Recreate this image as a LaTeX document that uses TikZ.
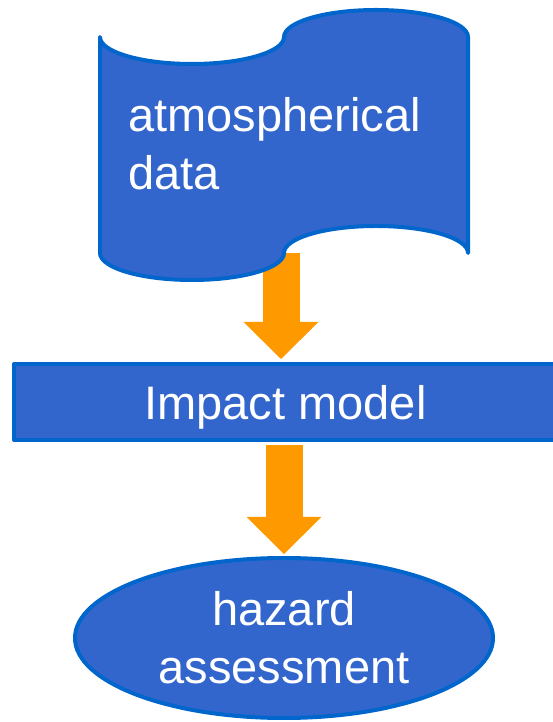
\documentclass[tikz,border=0pt]{standalone}
\usepackage{fontspec}
\setmainfont{Liberation Sans}
\usetikzlibrary{arrows.meta,shapes.geometric}
\definecolor{boxblue}{HTML}{3366CC}
\definecolor{edgeblue}{HTML}{0066CC}
\definecolor{flow}{HTML}{FF9900}
\tikzset{
  bigtext/.style={font=\fontsize{47}{58}\selectfont, text=white},
  shapestyle/.style={fill=boxblue, draw=edgeblue, line width=4pt, line join=round, line cap=round},
  blockarrow/.style={draw=flow, line width=37pt, line cap=butt,
    -{Triangle[length=37pt, width=75pt, line width=0pt, fill=flow]}},
}
\begin{document}
\begin{tikzpicture}[x=1pt, y=1pt]
\useasboundingbox (0,0) rectangle (553,722);
\clip (0,0) rectangle (553,722);

% process box (runs off the right edge)
\node[shapestyle, bigtext, rectangle, minimum width=543pt, minimum height=76pt, inner sep=0pt,
  text depth=0pt] (impact) at (285.5,320) {Impact model};

% result ellipse
\node[shapestyle, bigtext, ellipse, minimum width=418pt, minimum height=160pt, inner sep=0pt, align=center]
  (hazard) at (284,84) {hazard\\assessment};

% flow arrows
\coordinate (tapefoot) at (281,469);
\draw[blockarrow, shorten >=3pt] (tapefoot) -- (tapefoot |- impact.north);
\draw[blockarrow, shorten <=3pt, shorten >=2pt] (hazard.north |- impact.south) -- (hazard.north);

% punched-tape input shape
\draw[shapestyle]
  (100,685)
  arc[start angle=180, end angle=360, x radius=92pt, y radius=27pt]
  arc[start angle=180, end angle=0, x radius=92pt, y radius=27pt]
  -- (468,469)
  arc[start angle=0, end angle=180, x radius=92pt, y radius=27pt]
  arc[start angle=0, end angle=-180, x radius=92pt, y radius=27pt]
  -- cycle;
\node[bigtext, anchor=west, inner sep=0pt, align=left] (atm) at (128,578) {atmospherical\\data};
\end{tikzpicture}
\end{document}
